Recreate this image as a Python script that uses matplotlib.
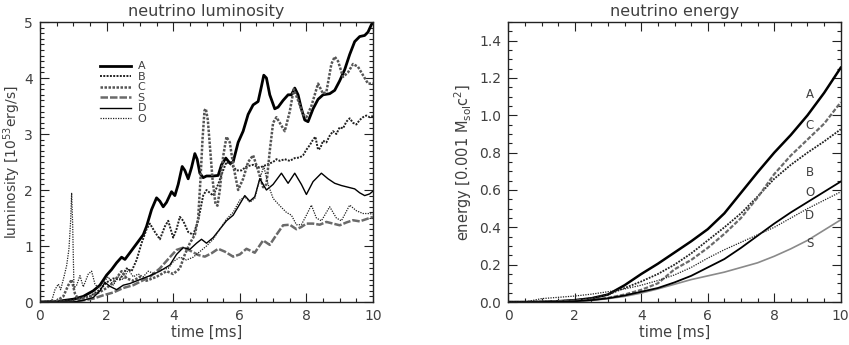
import numpy as np
import matplotlib
matplotlib.use("Agg")
import matplotlib.pyplot as plt
from matplotlib.ticker import MultipleLocator

# luminosity [1e53 erg/s] vs time [ms], (t, L) pairs
lum_A = [(0, 0), (0.5, 0.01), (1.0, 0.05), (1.3, 0.1), (1.6, 0.2), (1.8, 0.3), (2.0, 0.48), (2.15, 0.58),
         (2.3, 0.7), (2.45, 0.8), (2.55, 0.76), (2.7, 0.88), (2.85, 1.0), (3.0, 1.12), (3.1, 1.2), (3.2, 1.35),
         (3.35, 1.65), (3.5, 1.86), (3.6, 1.8), (3.7, 1.7), (3.8, 1.78), (3.95, 1.97), (4.05, 1.9), (4.15, 2.1),
         (4.27, 2.42), (4.35, 2.35), (4.45, 2.2), (4.55, 2.4), (4.65, 2.65), (4.72, 2.55), (4.8, 2.3), (4.9, 2.22),
         (5.0, 2.25), (5.2, 2.25), (5.35, 2.26), (5.45, 2.45), (5.58, 2.57), (5.7, 2.48), (5.8, 2.5), (5.95, 2.85),
         (6.1, 3.05), (6.25, 3.35), (6.4, 3.52), (6.55, 3.58), (6.65, 3.85), (6.72, 4.05), (6.8, 4.0), (6.9, 3.7),
         (7.05, 3.45), (7.15, 3.48), (7.3, 3.6), (7.45, 3.7), (7.55, 3.7), (7.65, 3.82), (7.75, 3.7), (7.85, 3.45),
         (7.95, 3.25), (8.05, 3.22), (8.2, 3.45), (8.35, 3.62), (8.5, 3.7), (8.7, 3.72), (8.85, 3.78), (9.0, 3.95),
         (9.15, 4.15), (9.3, 4.42), (9.45, 4.65), (9.6, 4.74), (9.75, 4.76), (9.85, 4.82), (9.95, 4.95), (10.0, 5.0)]
lum_B = [(0, 0), (0.5, 0.01), (1.0, 0.04), (1.5, 0.1), (1.8, 0.22), (2.0, 0.35), (2.2, 0.42), (2.4, 0.4),
         (2.6, 0.6), (2.75, 0.55), (2.9, 0.75), (3.05, 1.05), (3.2, 1.3), (3.3, 1.4), (3.45, 1.25), (3.6, 1.12),
         (3.75, 1.35), (3.85, 1.45), (4.0, 1.15), (4.1, 1.3), (4.2, 1.52), (4.3, 1.45), (4.45, 1.25), (4.6, 1.2),
         (4.75, 1.45), (4.9, 1.9), (5.0, 2.0), (5.1, 1.95), (5.2, 1.9), (5.35, 2.1), (5.5, 2.35), (5.6, 2.5),
         (5.75, 2.45), (5.9, 2.35), (6.05, 2.35), (6.2, 2.42), (6.4, 2.45), (6.6, 2.4), (6.8, 2.45), (7.0, 2.5),
         (7.1, 2.55), (7.2, 2.52), (7.35, 2.55), (7.5, 2.52), (7.65, 2.57), (7.8, 2.58), (7.9, 2.62), (8.0, 2.72),
         (8.1, 2.8), (8.2, 2.9), (8.27, 2.95), (8.35, 2.72), (8.42, 2.75), (8.5, 2.88), (8.6, 2.85), (8.7, 2.97),
         (8.8, 3.05), (8.9, 3.0), (9.0, 3.12), (9.1, 3.1), (9.2, 3.22), (9.3, 3.28), (9.4, 3.2), (9.5, 3.17),
         (9.6, 3.25), (9.7, 3.3), (9.8, 3.33), (9.9, 3.3), (10.0, 3.32)]
lum_C = [(0, 0), (0.5, 0.02), (0.7, 0.1), (0.85, 0.3), (0.95, 0.4), (1.05, 0.15), (1.15, 0.05), (1.5, 0.1),
         (1.8, 0.18), (2.0, 0.25), (2.2, 0.35), (2.45, 0.55), (2.6, 0.42), (2.8, 0.38), (3.0, 0.45), (3.2, 0.38),
         (3.5, 0.45), (3.8, 0.55), (4.0, 0.5), (4.2, 0.6), (4.35, 0.85), (4.5, 1.05), (4.65, 1.2), (4.75, 1.5),
         (4.82, 2.2), (4.88, 2.9), (4.94, 3.42), (4.98, 3.45), (5.04, 3.25), (5.1, 2.8), (5.18, 2.2), (5.27, 1.75),
         (5.33, 1.72), (5.4, 2.0), (5.5, 2.6), (5.6, 2.95), (5.7, 2.85), (5.8, 2.45), (5.95, 2.0), (6.1, 2.2),
         (6.25, 2.5), (6.4, 2.62), (6.55, 2.35), (6.7, 2.05), (6.8, 2.1), (6.9, 2.7), (7.0, 3.2), (7.1, 3.3),
         (7.2, 3.2), (7.35, 3.05), (7.5, 3.4), (7.62, 3.8), (7.75, 3.6), (7.9, 3.35), (8.0, 3.3), (8.15, 3.5),
         (8.35, 3.9), (8.5, 3.72), (8.6, 3.75), (8.75, 4.25), (8.85, 4.38), (8.95, 4.3), (9.1, 4.02), (9.25, 4.1),
         (9.4, 4.25), (9.55, 4.2), (9.7, 4.05), (9.85, 3.9), (10.0, 3.9)]
lum_S = [(0, 0), (1.0, 0.0), (1.3, 0.03), (1.6, 0.06), (1.9, 0.12), (2.2, 0.17), (2.5, 0.25), (2.8, 0.3),
         (3.0, 0.36), (3.3, 0.45), (3.6, 0.6), (3.9, 0.8), (4.1, 0.93), (4.3, 0.97), (4.5, 0.92), (4.75, 0.84),
         (4.95, 0.81), (5.15, 0.87), (5.35, 0.95), (5.55, 0.9), (5.8, 0.81), (6.0, 0.85), (6.2, 0.95), (6.45, 0.88),
         (6.7, 1.1), (6.9, 1.02), (7.1, 1.2), (7.3, 1.37), (7.5, 1.38), (7.7, 1.3), (7.85, 1.34), (8.0, 1.4),
         (8.2, 1.4), (8.4, 1.38), (8.6, 1.43), (8.8, 1.4), (9.0, 1.37), (9.2, 1.42), (9.4, 1.46), (9.6, 1.44),
         (9.8, 1.48), (10.0, 1.52)]
lum_D = [(0, 0), (1.0, 0.0), (1.3, 0.03), (1.6, 0.08), (1.8, 0.2), (1.95, 0.35), (2.1, 0.28), (2.3, 0.22),
         (2.5, 0.3), (2.7, 0.33), (3.0, 0.4), (3.3, 0.47), (3.6, 0.55), (3.9, 0.66), (4.1, 0.85), (4.3, 0.97),
         (4.5, 0.94), (4.7, 1.05), (4.85, 1.12), (5.0, 1.05), (5.2, 1.15), (5.4, 1.3), (5.6, 1.45), (5.8, 1.55),
         (6.0, 1.75), (6.15, 1.9), (6.3, 1.8), (6.45, 1.88), (6.6, 2.2), (6.8, 2.0), (7.0, 2.1), (7.25, 2.3),
         (7.45, 2.12), (7.65, 2.3), (7.85, 2.1), (8.0, 1.92), (8.2, 2.15), (8.45, 2.3), (8.65, 2.2), (8.85, 2.12),
         (9.05, 2.08), (9.25, 2.05), (9.45, 2.02), (9.6, 1.95), (9.75, 1.9), (9.9, 1.93), (10.0, 1.98)]
lum_O = [(0, 0), (0.35, 0.02), (0.45, 0.22), (0.55, 0.32), (0.62, 0.22), (0.72, 0.45), (0.8, 0.65), (0.87, 0.95),
         (0.92, 1.45), (0.95, 1.95), (0.98, 1.4), (1.02, 0.25), (1.1, 0.3), (1.2, 0.47), (1.3, 0.27), (1.45, 0.5),
         (1.55, 0.55), (1.65, 0.32), (1.75, 0.25), (1.9, 0.35), (2.05, 0.45), (2.2, 0.3), (2.35, 0.45), (2.5, 0.4),
         (2.65, 0.58), (2.8, 0.45), (2.95, 0.5), (3.1, 0.45), (3.25, 0.55), (3.45, 0.5), (3.65, 0.58), (3.85, 0.6),
         (4.0, 0.72), (4.2, 0.8), (4.4, 0.75), (4.6, 0.8), (4.8, 0.9), (5.0, 1.0), (5.2, 1.12), (5.4, 1.3),
         (5.6, 1.48), (5.8, 1.6), (6.0, 1.82), (6.15, 1.88), (6.3, 1.78), (6.45, 1.85), (6.6, 2.2), (6.72, 2.42),
         (6.85, 2.1), (7.0, 1.85), (7.2, 1.72), (7.4, 1.6), (7.55, 1.55), (7.7, 1.38), (7.85, 1.38), (8.0, 1.55),
         (8.15, 1.73), (8.3, 1.5), (8.45, 1.45), (8.7, 1.7), (8.9, 1.5), (9.05, 1.45), (9.3, 1.73), (9.5, 1.63),
         (9.7, 1.58), (9.85, 1.58), (10.0, 1.57)]

# neutrino energy [0.001 Msol c^2]
t_energy = [0, 0.5, 1, 1.5, 2, 2.5, 3, 3.5, 4, 4.5, 5, 5.5, 6, 6.5, 7, 7.5, 8, 8.5, 9, 9.5, 10]
en_A = [0, 0, 0.001, 0.004, 0.01, 0.02, 0.04, 0.09, 0.15, 0.205, 0.265, 0.325, 0.39, 0.475, 0.585, 0.695, 0.8, 0.895, 1.0, 1.12, 1.255]
en_B = [0, 0, 0.002, 0.005, 0.01, 0.02, 0.04, 0.075, 0.11, 0.15, 0.2, 0.26, 0.33, 0.4, 0.475, 0.565, 0.66, 0.735, 0.8, 0.86, 0.925]
en_C = [0, 0, 0.002, 0.004, 0.007, 0.012, 0.022, 0.04, 0.065, 0.1, 0.175, 0.225, 0.29, 0.365, 0.45, 0.56, 0.685, 0.785, 0.87, 0.955, 1.07]
en_S = [0, 0, 0, 0.002, 0.004, 0.008, 0.018, 0.03, 0.048, 0.07, 0.095, 0.12, 0.14, 0.16, 0.185, 0.21, 0.245, 0.285, 0.33, 0.385, 0.44]
en_D = [0, 0, 0, 0.002, 0.004, 0.01, 0.02, 0.035, 0.055, 0.075, 0.105, 0.14, 0.185, 0.23, 0.29, 0.355, 0.42, 0.48, 0.535, 0.59, 0.645]
en_O = [0, 0, 0.018, 0.025, 0.032, 0.042, 0.055, 0.07, 0.09, 0.115, 0.145, 0.185, 0.235, 0.28, 0.32, 0.36, 0.4, 0.45, 0.5, 0.545, 0.59]

models = ['A', 'B', 'C', 'S', 'D', 'O']
lum = {'A': lum_A, 'B': lum_B, 'C': lum_C, 'S': lum_S, 'D': lum_D, 'O': lum_O}
energy = {'A': en_A, 'B': en_B, 'C': en_C, 'S': en_S, 'D': en_D, 'O': en_O}

# text labels on the energy panel, top to bottom
end_labels = ['A', 'C', 'B', 'O', 'D', 'S']
end_label_y = [1.11, 0.943, 0.693, 0.585, 0.466, 0.312]

style = {
    'A': dict(color='black', lw=2.0, ls='-'),
    'B': dict(color='#202020', lw=1.4, ls=(0, (1, 0.7))),
    'C': dict(color='#555555', lw=1.8, ls=(0, (1, 0.6))),
    'S': dict(color='#6a6a6a', lw=1.8, ls=(0, (3, 0.8))),
    'D': dict(color='black', lw=1.0, ls='-'),
    'O': dict(color='#202020', lw=0.9, ls=(0, (1, 1))),
}
e_style = {
    'A': dict(color='black', lw=1.8, ls='-'),
    'B': dict(color='#202020', lw=1.3, ls=(0, (1, 0.7))),
    'C': dict(color='#6a6a6a', lw=1.6, ls=(0, (2, 0.8))),
    'S': dict(color='#8a8a8a', lw=1.2, ls='-'),
    'D': dict(color='black', lw=1.3, ls='-'),
    'O': dict(color='#202020', lw=0.9, ls=(0, (1, 1))),
}

TXT = '#404040'
plt.rcParams['font.family'] = ['DejaVu Sans']
plt.rcParams['mathtext.fontset'] = 'dejavusans'

fig = plt.figure(figsize=(8.49, 3.45), dpi=100)
ax1 = fig.add_axes([40 / 849, 1 - 302 / 345, 333 / 849, 280 / 345])
ax2 = fig.add_axes([508.3 / 849, 1 - 302 / 345, 332.4 / 849, 280 / 345])


def style_axes(ax):
    for sp in ax.spines.values():
        sp.set_linewidth(1.0)
        sp.set_color('#222222')
    ax.tick_params(which='both', direction='in', top=True, right=True,
                   colors='#222222', labelcolor=TXT, labelsize=10, width=0.8)
    ax.tick_params(which='major', length=6.5, pad=5)
    ax.tick_params(which='minor', length=3.2)
    ax.xaxis.set_major_locator(MultipleLocator(2))
    ax.xaxis.set_minor_locator(MultipleLocator(0.5))
    ax.set_xlim(0, 10)
    ax.set_xlabel('time [ms]', fontsize=10.5, color=TXT, labelpad=1)


# left: luminosity
for m in models:
    t, L = np.array(lum[m]).T
    ax1.plot(t, L, label=m, **style[m])
ax1.set_ylim(0, 5)
style_axes(ax1)
ax1.yaxis.set_major_locator(MultipleLocator(1))
ax1.yaxis.set_minor_locator(MultipleLocator(0.1))
ax1.set_title('neutrino luminosity', fontsize=11.5, color=TXT, pad=4)
ax1.set_ylabel('luminosity [10$^{53}$erg/s]', fontsize=10, color=TXT, labelpad=1)
leg = ax1.legend(loc='upper left', bbox_to_anchor=(0.18, 0.86), frameon=False,
                 fontsize=8, handlelength=2.8, handletextpad=0.6, labelspacing=0.05,
                 borderpad=0, borderaxespad=0, handleheight=0.5)
for txt in leg.get_texts():
    txt.set_color(TXT)

# right: energy
for m in models:
    ax2.plot(t_energy, energy[m], **e_style[m])
ax2.set_ylim(0, 1.5)
style_axes(ax2)
ax2.yaxis.set_major_locator(MultipleLocator(0.2))
ax2.yaxis.set_minor_locator(MultipleLocator(0.05))
ax2.yaxis.set_major_formatter(matplotlib.ticker.FormatStrFormatter('%.1f'))
ax2.set_title('neutrino energy', fontsize=11.5, color=TXT, pad=4)
ax2.set_ylabel('energy [0.001 M$_{\\rm sol}$c$^2$]', fontsize=10.5, color=TXT, labelpad=4)
for lab, y in zip(end_labels, end_label_y):
    ax2.text(9.07, y, lab, ha='center', va='center', fontsize=8.5, color=TXT)

fig.savefig('out.png', dpi=100)
